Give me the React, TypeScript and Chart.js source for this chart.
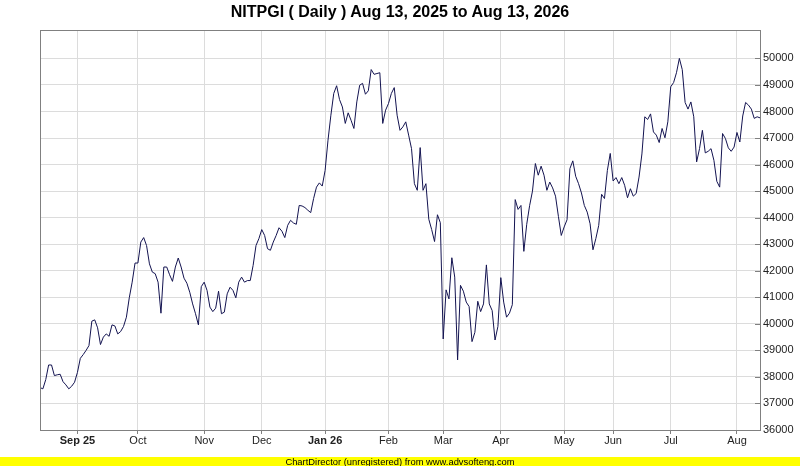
import { useEffect, useRef } from 'react';
import { Chart, registerables } from 'chart.js';

Chart.register(...registerables);

const TITLE = 'NITPGI ( Daily ) Aug 13, 2025 to Aug 13, 2026';
const FOOTER = 'ChartDirector (unregistered) from www.advsofteng.com';
const FONT = '"Liberation Sans", Arial, sans-serif';

// daily closes, one array per calendar month (trading days only)
const aug25 = [37600, 37550, 37900, 38450, 38450, 38050, 38080, 38100, 37820, 37700, 37550, 37650, 37800];
const sep25 = [38170, 38700, 38840, 39000, 39180, 40100, 40150, 39850, 39220, 39500, 39620, 39530, 39960, 39920, 39620, 39710, 39900, 40250, 40980, 41570, 42290];
const oct25 = [42290, 43080, 43250, 42950, 42260, 41950, 41890, 41570, 40400, 42140, 42140, 41850, 41600, 42140, 42480, 42140, 41720, 41530, 41190, 40750, 40380, 39960, 41400];
const nov25 = [41570, 41260, 40630, 40460, 40590, 41230, 40380, 40440, 41130, 41380, 41260, 40980, 41570, 41760, 41570, 41630, 41630, 42200, 42950, 43210];
const dec25 = [43550, 43330, 42830, 42770, 43080, 43330, 43620, 43490, 43250, 43710, 43900, 43800, 43750, 44460, 44440, 44380, 44280, 44190, 44720, 45150, 45310, 45190];
const jan26 = [45780, 46920, 47860, 48680, 48970, 48450, 48170, 47550, 47950, 47670, 47360, 48360, 48990, 49060, 48650, 48780, 49580, 49400, 49430, 49460, 47550, 48050];
const feb26 = [48300, 48680, 48900, 47860, 47290, 47420, 47610, 47110, 46600, 45280, 45030, 46640, 45030, 45280, 43940, 43550, 43100, 44110, 43810];
const mar26 = [39430, 41280, 40940, 42490, 41760, 38640, 41450, 41230, 40820, 40650, 39330, 39680, 40850, 40460, 40750, 42220, 40750, 40500, 39390, 39900];
const apr26 = [41740, 40820, 40250, 40400, 40720, 44680, 44310, 44460, 42730, 43750, 44450, 45000, 46040, 45600, 45940, 45600, 45030, 45340, 45120, 44810, 44050, 43330];
const may26 = [43650, 43920, 45850, 46140, 45560, 45280, 44930, 44460, 44210, 43770, 42790, 43210, 43710, 44880, 44720, 45780, 46420];
const jun26 = [45380, 45510, 45280, 45510, 45220, 44750, 45090, 44810, 44910, 45530, 46400, 47800, 47700, 47910, 47230, 47110, 46830, 47360, 47010, 47610];
const jul26 = [48930, 49090, 49460, 50000, 49580, 48340, 48090, 48360, 47800, 46100, 46600, 47290, 46440, 46500, 46600, 46160, 45370, 45150, 47170, 46980, 46630, 46500, 46660];
const aug26 = [47210, 46850, 47830, 48340, 48240, 48090, 47740, 47800, 47760];

const months = [aug25, sep25, oct25, nov25, dec25, jan26, feb26, mar26, apr26, may26, jun26, jul26, aug26];
// tick label at the first trading day of each month (none for the partial first month)
const monthLabels = ['', 'Sep 25', 'Oct', 'Nov', 'Dec', 'Jan 26', 'Feb', 'Mar', 'Apr', 'May', 'Jun', 'Jul', 'Aug'];
const yearLabels = ['Sep 25', 'Jan 26'];

const yTicks = [36000, 37000, 38000, 39000, 40000, 41000, 42000, 43000, 44000, 45000, 46000, 47000, 48000, 49000, 50000];
const Y_MIN = 36000;
const Y_MAX = 51070;

const frame = {
  id: 'frame',
  afterDatasetsDraw(chart: Chart) {
    const { ctx, chartArea: a } = chart;
    const y = chart.scales.y;
    ctx.save();
    ctx.strokeStyle = '#808080';
    ctx.lineWidth = 1;
    ctx.beginPath();
    yTicks.forEach((v) => {
      const py = Math.round(y.getPixelForValue(v)) + 0.5;
      ctx.moveTo(a.right - 5, py);
      ctx.lineTo(a.right, py);
    });
    ctx.stroke();
    ctx.strokeRect(a.left + 0.5, a.top + 0.5, a.right - a.left, a.bottom - a.top);
    ctx.restore();
  },
};

export default function App() {
  const canvasRef = useRef<HTMLCanvasElement>(null);

  useEffect(() => {
    if (!canvasRef.current) return;
    const points: { x: number; y: number }[] = [];
    const tickAt = new Map<number, string>();
    months.forEach((m, mi) => {
      if (monthLabels[mi]) tickAt.set(points.length, monthLabels[mi]);
      m.forEach((v) => points.push({ x: points.length, y: v }));
    });
    const lastIdx = points.length - 1;

    const chart = new Chart(canvasRef.current, {
      type: 'line',
      data: {
        datasets: [{
          data: points,
          borderColor: '#131350',
          borderWidth: 1,
          pointRadius: 0,
          tension: 0,
          fill: false,
        }],
      },
      options: {
        animation: false,
        responsive: false,
        devicePixelRatio: 1,
        layout: { padding: { left: 40, top: 30, right: 0, bottom: 0 } },
        plugins: { legend: { display: false }, tooltip: { enabled: false } },
        scales: {
          x: {
            type: 'linear',
            min: 0,
            max: lastIdx,
            afterBuildTicks: (axis: any) => {
              axis.ticks = Array.from(tickAt.keys()).map((v) => ({ value: v }));
            },
            afterFit: (axis: any) => { axis.height = 36; },
            grid: { color: '#dcdcdc', tickColor: '#808080', tickLength: 4, drawTicks: true },
            border: { display: false },
            ticks: {
              autoSkip: false,
              maxRotation: 0,
              padding: 0,
              color: '#222',
              font: (c: any) => ({
                family: FONT,
                size: 11,
                weight: yearLabels.includes(tickAt.get(c.tick?.value) ?? '') ? 'bold' : 'normal',
              }),
              callback: (v: any) => tickAt.get(Number(v)) ?? '',
            },
          },
          y: {
            position: 'right',
            min: Y_MIN,
            max: Y_MAX,
            afterBuildTicks: (axis: any) => {
              axis.ticks = yTicks.map((v) => ({ value: v }));
            },
            afterFit: (axis: any) => { axis.width = 40; },
            grid: { color: '#dcdcdc', drawTicks: false },
            border: { display: false },
            ticks: {
              padding: 3,
              color: '#222',
              font: { family: FONT, size: 11 },
              callback: (v: any) => String(v),
            },
          },
        },
      },
      plugins: [frame],
    });
    return () => chart.destroy();
  }, []);

  return (
    <div style={{ position: 'fixed', left: 0, top: 0, width: 800, height: 466, background: '#fff', overflow: 'hidden' }}>
      <canvas ref={canvasRef} width={800} height={466} style={{ display: 'block' }} />
      <div style={{ position: 'absolute', left: 0, top: 3, width: 800, textAlign: 'center', font: `bold 16px ${FONT}`, lineHeight: '18px', color: '#000' }}>
        {TITLE}
      </div>
      <div style={{ position: 'absolute', left: 0, top: 457, width: 800, height: 9, background: '#ffff00', textAlign: 'center', font: `9.4px ${FONT}`, lineHeight: '9px', color: '#000' }}>
        {FOOTER}
      </div>
    </div>
  );
}
